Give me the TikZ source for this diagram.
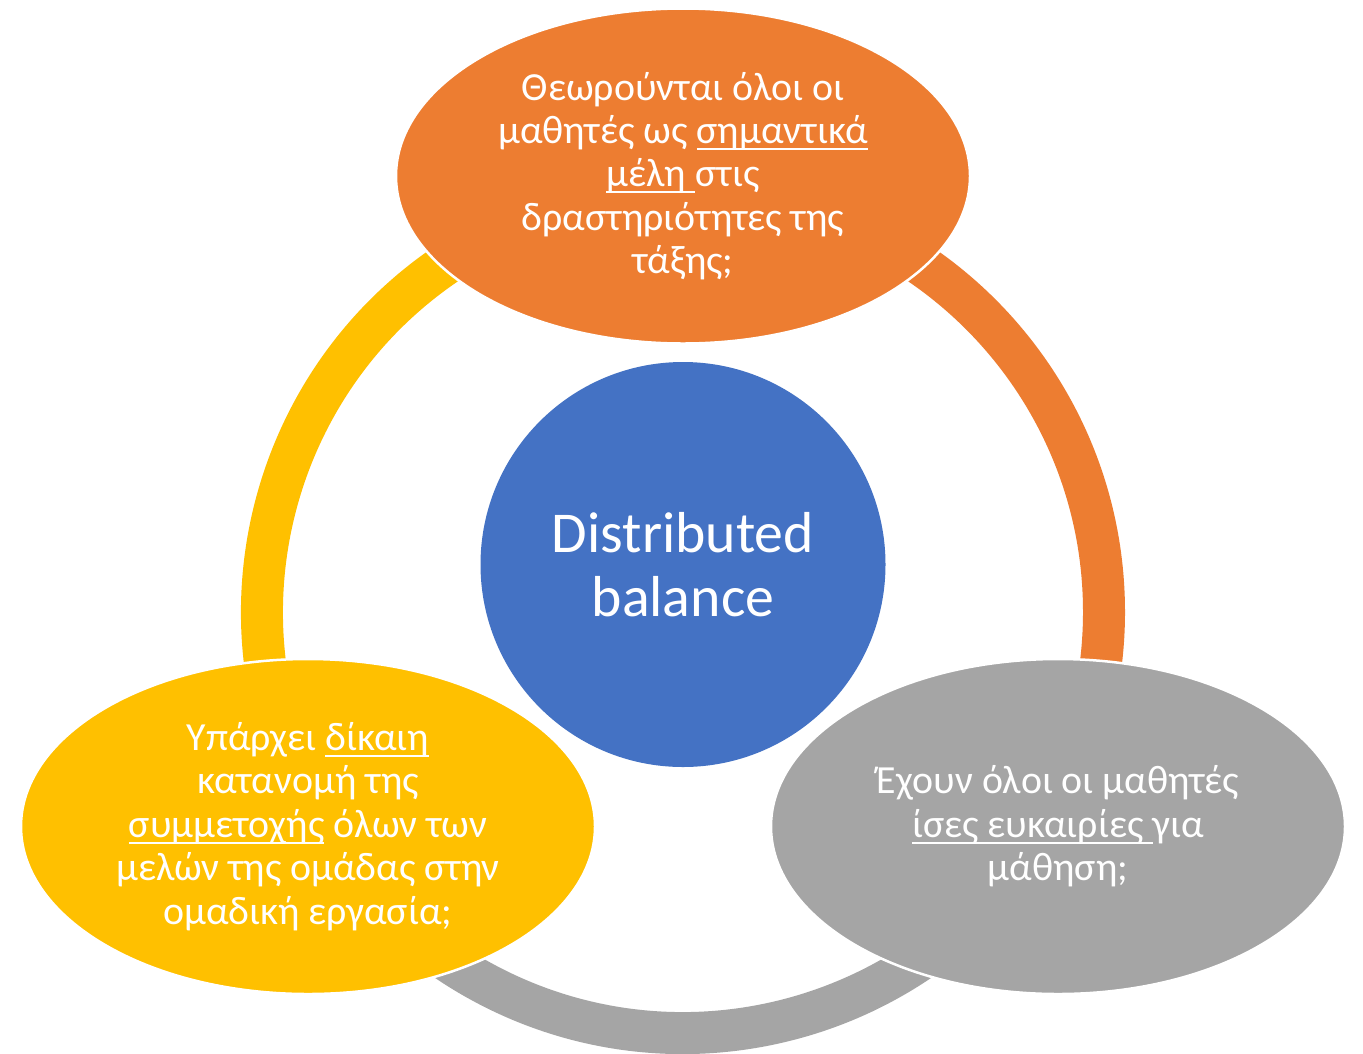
\documentclass[tikz,border=0pt]{standalone}
\usepackage{fontspec}
\setmainfont{Carlito}
\usetikzlibrary{shapes.geometric}
\definecolor{cOrange}{HTML}{ED7D31}
\definecolor{cYellow}{HTML}{FFC000}
\definecolor{cGray}{HTML}{A5A5A5}
\definecolor{cBlue}{HTML}{4472C4}
\newcommand{\ulx}[1]{\leavevmode\setbox0\hbox{#1}\rlap{\rule[-0.16em]{\wd0}{0.05em}}\box0\relax}
\begin{document}
\begin{tikzpicture}[x=1bp,y=-1bp,
  ringarc/.style={line width=42bp},
  bubble/.style={ellipse, minimum width=574bp, minimum height=335bp, inner sep=0pt,
    draw=white, line width=2.5bp, text=white, align=center,
    font=\fontsize{40}{43.5}\selectfont},
  hub/.style={circle, minimum size=405bp, inner sep=0pt, fill=cBlue, text=white,
    align=center, font=\fontsize{58}{64}\selectfont}]
\fill[white] (0,0) rectangle (1363,1053);
\useasboundingbox (0,0) rectangle (1363,1053);
\coordinate (ringc) at (683,612);
% ring arcs
\draw[ringarc, cOrange] ([shift={(-90:421)}]ringc) arc[start angle=-90, end angle=30, radius=421];
\draw[ringarc, cGray] ([shift={(30:421)}]ringc) arc[start angle=30, end angle=150, radius=421];
\draw[ringarc, cYellow] ([shift={(150:421)}]ringc) arc[start angle=150, end angle=270, radius=421];
% hub
\node[hub] (hub) at (683,564.5) {Distributed\\balance};
% bubbles
\node[bubble, fill=cOrange] (top) at (683,176) {Θεωρούνται όλοι οι\\μαθητές ως \ulx{σημαντικά}\\\ulx{μέλη\ }στις\\δραστηριότητες της\\τάξης;};
\node[bubble, fill=cYellow] (left) at (308,826.5) {Υπάρχει \ulx{δίκαιη}\\κατανομή της\\\ulx{συμμετοχής} όλων των\\μελών της ομάδας στην\\ομαδική εργασία;};
\node[bubble, fill=cGray] (right) at (1058,826.5) {Έχουν όλοι οι μαθητές\\\ulx{ίσες ευκαιρίες\ }για\\μάθηση;};
\end{tikzpicture}
\end{document}
